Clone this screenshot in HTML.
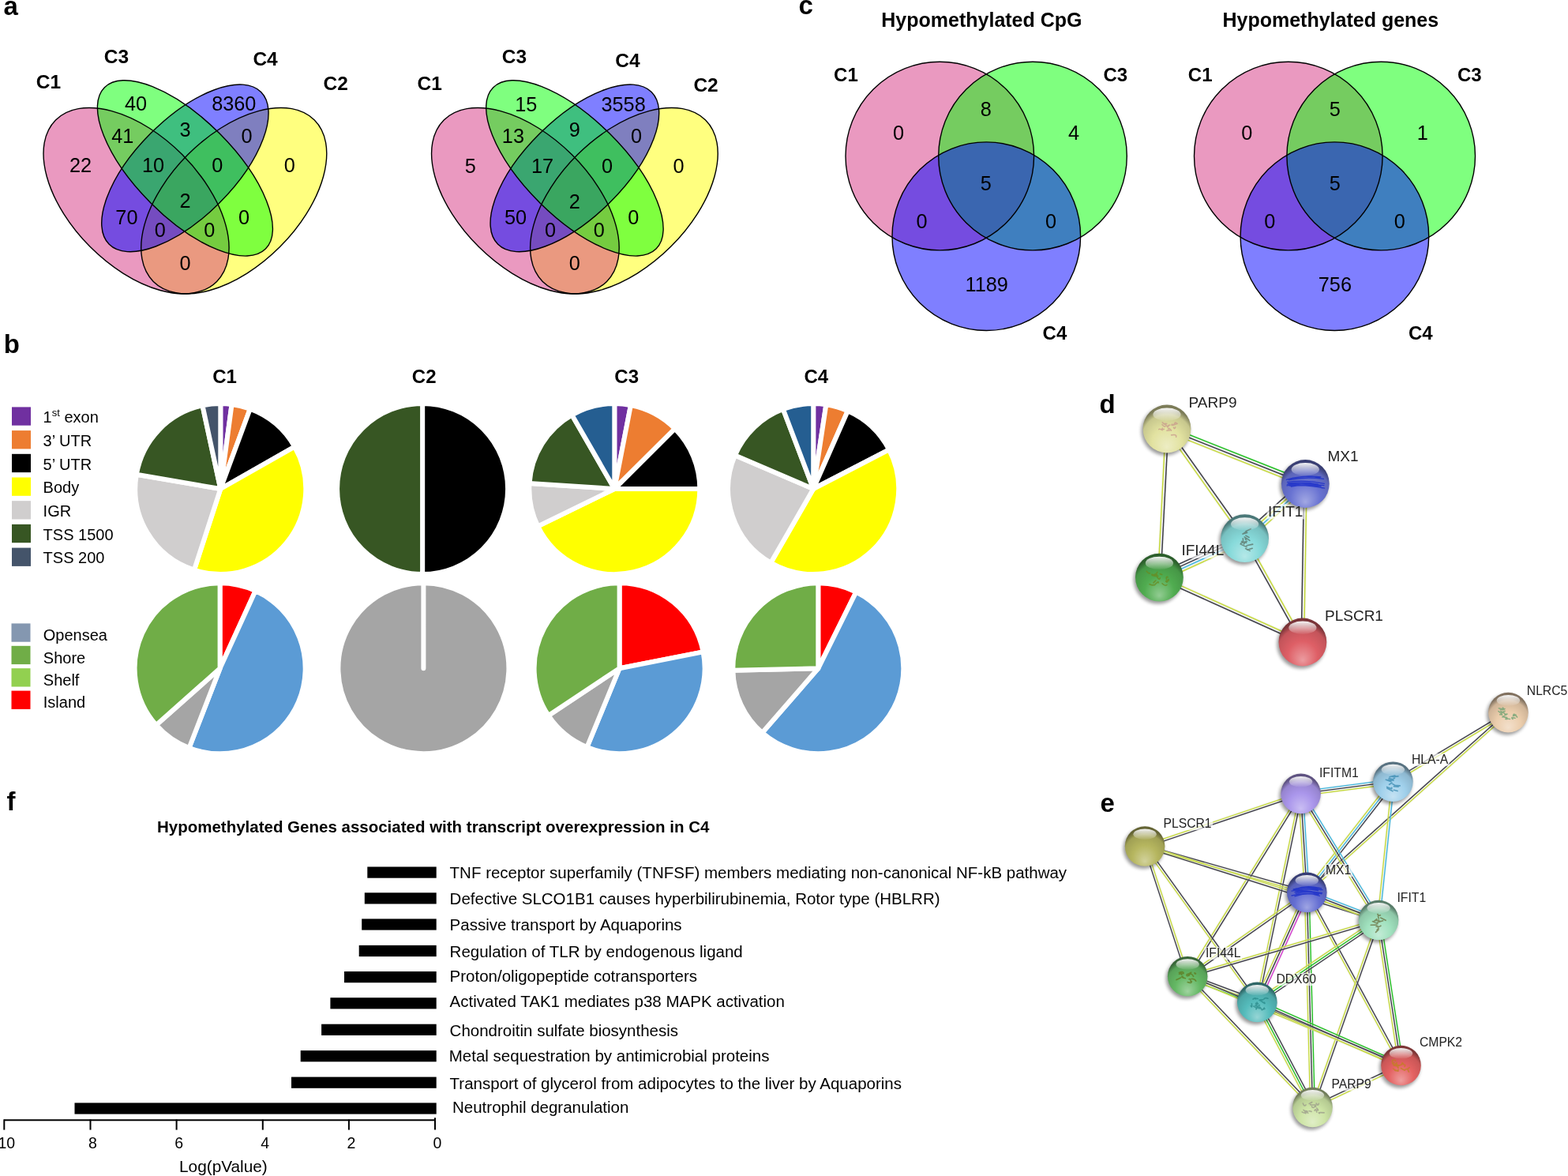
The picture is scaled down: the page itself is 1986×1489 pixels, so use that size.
<!DOCTYPE html>
<html><head><meta charset="utf-8"><title>Figure</title>
<style>html,body{margin:0;padding:0;background:#fff;} svg{display:block;} text{font-family:"Liberation Sans", Arial, Helvetica, sans-serif;}</style>
</head><body>
<svg width="1986" height="1489" viewBox="0 0 1986 1489">
<defs><filter id="blur" x="-50%" y="-50%" width="200%" height="200%"><feGaussianBlur stdDeviation="2.2"/></filter><linearGradient id="hl" x1="0" y1="0" x2="0" y2="1"><stop offset="0" stop-color="#fff" stop-opacity="0.95"/><stop offset="1" stop-color="#fff" stop-opacity="0.05"/></linearGradient><radialGradient id="sg1" cx="50%" cy="70%" r="62%" fx="50%" fy="88%"><stop offset="0" stop-color="#ededc4"/><stop offset="0.5" stop-color="#e2e2a0"/><stop offset="0.85" stop-color="#c7c78d"/><stop offset="1" stop-color="#7c7c58"/></radialGradient><radialGradient id="sg2" cx="50%" cy="70%" r="62%" fx="50%" fy="88%"><stop offset="0" stop-color="#a2a8e3"/><stop offset="0.5" stop-color="#6973d2"/><stop offset="0.85" stop-color="#5c65b9"/><stop offset="1" stop-color="#3a3f74"/></radialGradient><radialGradient id="sg3" cx="50%" cy="70%" r="62%" fx="50%" fy="88%"><stop offset="0" stop-color="#b5e8e8"/><stop offset="0.5" stop-color="#87dada"/><stop offset="0.85" stop-color="#77c0c0"/><stop offset="1" stop-color="#4a7878"/></radialGradient><radialGradient id="sg4" cx="50%" cy="70%" r="62%" fx="50%" fy="88%"><stop offset="0" stop-color="#92cc92"/><stop offset="0.5" stop-color="#50ac50"/><stop offset="0.85" stop-color="#469746"/><stop offset="1" stop-color="#2c5f2c"/></radialGradient><radialGradient id="sg5" cx="50%" cy="70%" r="62%" fx="50%" fy="88%"><stop offset="0" stop-color="#eb9ca0"/><stop offset="0.5" stop-color="#de5f66"/><stop offset="0.85" stop-color="#c3545a"/><stop offset="1" stop-color="#7a3438"/></radialGradient><radialGradient id="sg6" cx="50%" cy="70%" r="62%" fx="50%" fy="88%"><stop offset="0" stop-color="#f3e0cc"/><stop offset="0.5" stop-color="#ebcdac"/><stop offset="0.85" stop-color="#cfb497"/><stop offset="1" stop-color="#81715f"/></radialGradient><radialGradient id="sg7" cx="50%" cy="70%" r="62%" fx="50%" fy="88%"><stop offset="0" stop-color="#c4e2f3"/><stop offset="0.5" stop-color="#a0d0eb"/><stop offset="0.85" stop-color="#8db7cf"/><stop offset="1" stop-color="#587281"/></radialGradient><radialGradient id="sg8" cx="50%" cy="70%" r="62%" fx="50%" fy="88%"><stop offset="0" stop-color="#cabef3"/><stop offset="0.5" stop-color="#aa96eb"/><stop offset="0.85" stop-color="#9684cf"/><stop offset="1" stop-color="#5e5281"/></radialGradient><radialGradient id="sg9" cx="50%" cy="70%" r="62%" fx="50%" fy="88%"><stop offset="0" stop-color="#d2d29c"/><stop offset="0.5" stop-color="#b6b65f"/><stop offset="0.85" stop-color="#a0a054"/><stop offset="1" stop-color="#646434"/></radialGradient><radialGradient id="sg10" cx="50%" cy="70%" r="62%" fx="50%" fy="88%"><stop offset="0" stop-color="#9fa5e3"/><stop offset="0.5" stop-color="#646ed2"/><stop offset="0.85" stop-color="#5861b9"/><stop offset="1" stop-color="#373d74"/></radialGradient><radialGradient id="sg11" cx="50%" cy="70%" r="62%" fx="50%" fy="88%"><stop offset="0" stop-color="#c4ecd7"/><stop offset="0.5" stop-color="#a0e1be"/><stop offset="0.85" stop-color="#8dc6a7"/><stop offset="1" stop-color="#587c69"/></radialGradient><radialGradient id="sg12" cx="50%" cy="70%" r="62%" fx="50%" fy="88%"><stop offset="0" stop-color="#9fd39f"/><stop offset="0.5" stop-color="#64b864"/><stop offset="0.85" stop-color="#58a258"/><stop offset="1" stop-color="#376537"/></radialGradient><radialGradient id="sg13" cx="50%" cy="70%" r="62%" fx="50%" fy="88%"><stop offset="0" stop-color="#96d5d5"/><stop offset="0.5" stop-color="#55bcbc"/><stop offset="0.85" stop-color="#4ba5a5"/><stop offset="1" stop-color="#2f6767"/></radialGradient><radialGradient id="sg14" cx="50%" cy="70%" r="62%" fx="50%" fy="88%"><stop offset="0" stop-color="#ee9e9e"/><stop offset="0.5" stop-color="#e46262"/><stop offset="0.85" stop-color="#c95656"/><stop offset="1" stop-color="#7d3636"/></radialGradient><radialGradient id="sg15" cx="50%" cy="70%" r="62%" fx="50%" fy="88%"><stop offset="0" stop-color="#e0eec7"/><stop offset="0.5" stop-color="#cde4a5"/><stop offset="0.85" stop-color="#b4c991"/><stop offset="1" stop-color="#717d5b"/></radialGradient></defs>
<rect width="1986" height="1489" fill="#fff"/>
<text x="4.6" y="18.6" font-size="33" font-weight="bold" text-anchor="start" fill="#000" >a</text>
<g transform="translate(28.25,448.30) scale(412.3,-413)">
<ellipse cx="0.65" cy="0.47" rx="0.35" ry="0.2" transform="rotate(45 0.65 0.47)" fill="rgb(255,255,0)" fill-opacity="0.5"/>
<ellipse cx="0.35" cy="0.47" rx="0.35" ry="0.2" transform="rotate(-45 0.35 0.47)" fill="rgb(213,51,129)" fill-opacity="0.5"/>
<ellipse cx="0.5" cy="0.57" rx="0.33" ry="0.15" transform="rotate(45 0.5 0.57)" fill="rgb(0,0,255)" fill-opacity="0.5"/>
<ellipse cx="0.5" cy="0.57" rx="0.35" ry="0.15" transform="rotate(-45 0.5 0.57)" fill="rgb(0,255,0)" fill-opacity="0.5"/>
<ellipse cx="0.65" cy="0.47" rx="0.35" ry="0.2" transform="rotate(45 0.65 0.47)" fill="none" stroke="#000" stroke-width="1.4" vector-effect="non-scaling-stroke"/>
<ellipse cx="0.35" cy="0.47" rx="0.35" ry="0.2" transform="rotate(-45 0.35 0.47)" fill="none" stroke="#000" stroke-width="1.4" vector-effect="non-scaling-stroke"/>
<ellipse cx="0.5" cy="0.57" rx="0.33" ry="0.15" transform="rotate(45 0.5 0.57)" fill="none" stroke="#000" stroke-width="1.4" vector-effect="non-scaling-stroke"/>
<ellipse cx="0.5" cy="0.57" rx="0.35" ry="0.15" transform="rotate(-45 0.5 0.57)" fill="none" stroke="#000" stroke-width="1.4" vector-effect="non-scaling-stroke"/>
</g>
<text x="102.1" y="209.2" font-size="25.3" text-anchor="middle" fill="#000" dominant-baseline="central">22</text>
<text x="172.0" y="131.2" font-size="25.3" text-anchor="middle" fill="#000" dominant-baseline="central">40</text>
<text x="155.3" y="172.4" font-size="25.3" text-anchor="middle" fill="#000" dominant-baseline="central">41</text>
<text x="296.3" y="131.2" font-size="25.3" text-anchor="middle" fill="#000" dominant-baseline="central">8360</text>
<text x="234.5" y="164.0" font-size="25.3" text-anchor="middle" fill="#000" dominant-baseline="central">3</text>
<text x="312.5" y="172.4" font-size="25.3" text-anchor="middle" fill="#000" dominant-baseline="central">0</text>
<text x="194.0" y="209.2" font-size="25.3" text-anchor="middle" fill="#000" dominant-baseline="central">10</text>
<text x="275.4" y="209.2" font-size="25.3" text-anchor="middle" fill="#000" dominant-baseline="central">0</text>
<text x="366.7" y="209.2" font-size="25.3" text-anchor="middle" fill="#000" dominant-baseline="central">0</text>
<text x="160.4" y="275.0" font-size="25.3" text-anchor="middle" fill="#000" dominant-baseline="central">70</text>
<text x="234.5" y="254.3" font-size="25.3" text-anchor="middle" fill="#000" dominant-baseline="central">2</text>
<text x="309.0" y="275.0" font-size="25.3" text-anchor="middle" fill="#000" dominant-baseline="central">0</text>
<text x="202.8" y="291.1" font-size="25.3" text-anchor="middle" fill="#000" dominant-baseline="central">0</text>
<text x="265.4" y="291.1" font-size="25.3" text-anchor="middle" fill="#000" dominant-baseline="central">0</text>
<text x="234.5" y="332.8" font-size="25.3" text-anchor="middle" fill="#000" dominant-baseline="central">0</text>
<text x="61.4" y="112.3" font-size="24.5" font-weight="bold" text-anchor="middle" fill="#000" >C1</text>
<text x="147.5" y="79.6" font-size="24.5" font-weight="bold" text-anchor="middle" fill="#000" >C3</text>
<text x="336.1" y="83.3" font-size="24.5" font-weight="bold" text-anchor="middle" fill="#000" >C4</text>
<text x="425.2" y="114.2" font-size="24.5" font-weight="bold" text-anchor="middle" fill="#000" >C2</text>
<g transform="translate(519.50,448.30) scale(416.8,-413)">
<ellipse cx="0.65" cy="0.47" rx="0.35" ry="0.2" transform="rotate(45 0.65 0.47)" fill="rgb(255,255,0)" fill-opacity="0.5"/>
<ellipse cx="0.35" cy="0.47" rx="0.35" ry="0.2" transform="rotate(-45 0.35 0.47)" fill="rgb(213,51,129)" fill-opacity="0.5"/>
<ellipse cx="0.5" cy="0.57" rx="0.33" ry="0.15" transform="rotate(45 0.5 0.57)" fill="rgb(0,0,255)" fill-opacity="0.5"/>
<ellipse cx="0.5" cy="0.57" rx="0.35" ry="0.15" transform="rotate(-45 0.5 0.57)" fill="rgb(0,255,0)" fill-opacity="0.5"/>
<ellipse cx="0.65" cy="0.47" rx="0.35" ry="0.2" transform="rotate(45 0.65 0.47)" fill="none" stroke="#000" stroke-width="1.4" vector-effect="non-scaling-stroke"/>
<ellipse cx="0.35" cy="0.47" rx="0.35" ry="0.2" transform="rotate(-45 0.35 0.47)" fill="none" stroke="#000" stroke-width="1.4" vector-effect="non-scaling-stroke"/>
<ellipse cx="0.5" cy="0.57" rx="0.33" ry="0.15" transform="rotate(45 0.5 0.57)" fill="none" stroke="#000" stroke-width="1.4" vector-effect="non-scaling-stroke"/>
<ellipse cx="0.5" cy="0.57" rx="0.35" ry="0.15" transform="rotate(-45 0.5 0.57)" fill="none" stroke="#000" stroke-width="1.4" vector-effect="non-scaling-stroke"/>
</g>
<text x="595.7" y="209.5" font-size="25.3" text-anchor="middle" fill="#000" dominant-baseline="central">5</text>
<text x="666.2" y="131.5" font-size="25.3" text-anchor="middle" fill="#000" dominant-baseline="central">15</text>
<text x="649.9" y="172.3" font-size="25.3" text-anchor="middle" fill="#000" dominant-baseline="central">13</text>
<text x="789.6" y="131.5" font-size="25.3" text-anchor="middle" fill="#000" dominant-baseline="central">3558</text>
<text x="727.9" y="164.2" font-size="25.3" text-anchor="middle" fill="#000" dominant-baseline="central">9</text>
<text x="806.0" y="172.3" font-size="25.3" text-anchor="middle" fill="#000" dominant-baseline="central">0</text>
<text x="687.1" y="209.5" font-size="25.3" text-anchor="middle" fill="#000" dominant-baseline="central">17</text>
<text x="769.0" y="209.5" font-size="25.3" text-anchor="middle" fill="#000" dominant-baseline="central">0</text>
<text x="859.6" y="209.5" font-size="25.3" text-anchor="middle" fill="#000" dominant-baseline="central">0</text>
<text x="653.1" y="275.0" font-size="25.3" text-anchor="middle" fill="#000" dominant-baseline="central">50</text>
<text x="727.9" y="254.9" font-size="25.3" text-anchor="middle" fill="#000" dominant-baseline="central">2</text>
<text x="802.2" y="275.0" font-size="25.3" text-anchor="middle" fill="#000" dominant-baseline="central">0</text>
<text x="697.0" y="291.4" font-size="25.3" text-anchor="middle" fill="#000" dominant-baseline="central">0</text>
<text x="758.9" y="291.4" font-size="25.3" text-anchor="middle" fill="#000" dominant-baseline="central">0</text>
<text x="727.9" y="332.9" font-size="25.3" text-anchor="middle" fill="#000" dominant-baseline="central">0</text>
<text x="544.2" y="114.3" font-size="24.5" font-weight="bold" text-anchor="middle" fill="#000" >C1</text>
<text x="651.5" y="79.8" font-size="24.5" font-weight="bold" text-anchor="middle" fill="#000" >C3</text>
<text x="794.9" y="85.3" font-size="24.5" font-weight="bold" text-anchor="middle" fill="#000" >C4</text>
<text x="894.1" y="115.5" font-size="24.5" font-weight="bold" text-anchor="middle" fill="#000" >C2</text>
<text x="1011.6" y="18.3" font-size="33" font-weight="bold" text-anchor="start" fill="#000" >c</text>
<text x="1243.4" y="34.0" font-size="25" font-weight="bold" text-anchor="middle" fill="#000" >Hypomethylated CpG</text>
<text x="1685.3" y="34.0" font-size="25" font-weight="bold" text-anchor="middle" fill="#000" >Hypomethylated genes</text>
<circle cx="1190.3" cy="197.6" r="119.3" fill="rgb(213,51,129)" fill-opacity="0.5"/>
<circle cx="1308" cy="197.6" r="119.3" fill="rgb(0,255,0)" fill-opacity="0.5"/>
<circle cx="1249.3" cy="299.2" r="119.3" fill="rgb(0,0,255)" fill-opacity="0.5"/>
<circle cx="1190.3" cy="197.6" r="119.3" fill="none" stroke="#000" stroke-width="1.4"/>
<circle cx="1308" cy="197.6" r="119.3" fill="none" stroke="#000" stroke-width="1.4"/>
<circle cx="1249.3" cy="299.2" r="119.3" fill="none" stroke="#000" stroke-width="1.4"/>
<text x="1138.0" y="168.0" font-size="25.3" text-anchor="middle" fill="#000" dominant-baseline="central">0</text>
<text x="1248.8" y="137.6" font-size="25.3" text-anchor="middle" fill="#000" dominant-baseline="central">8</text>
<text x="1360.0" y="168.0" font-size="25.3" text-anchor="middle" fill="#000" dominant-baseline="central">4</text>
<text x="1248.8" y="231.6" font-size="25.3" text-anchor="middle" fill="#000" dominant-baseline="central">5</text>
<text x="1167.6" y="279.7" font-size="25.3" text-anchor="middle" fill="#000" dominant-baseline="central">0</text>
<text x="1331.0" y="279.7" font-size="25.3" text-anchor="middle" fill="#000" dominant-baseline="central">0</text>
<text x="1249.7" y="360.1" font-size="25.3" text-anchor="middle" fill="#000" dominant-baseline="central">1189</text>
<text x="1056.1" y="103.4" font-size="24" font-weight="bold" text-anchor="start" fill="#000" >C1</text>
<text x="1397.5" y="103.4" font-size="24" font-weight="bold" text-anchor="start" fill="#000" >C3</text>
<text x="1320.6" y="430.0" font-size="24" font-weight="bold" text-anchor="start" fill="#000" >C4</text>
<circle cx="1631.8" cy="197.6" r="119.3" fill="rgb(213,51,129)" fill-opacity="0.5"/>
<circle cx="1749.2" cy="197.6" r="119.3" fill="rgb(0,255,0)" fill-opacity="0.5"/>
<circle cx="1690.4" cy="299.2" r="119.3" fill="rgb(0,0,255)" fill-opacity="0.5"/>
<circle cx="1631.8" cy="197.6" r="119.3" fill="none" stroke="#000" stroke-width="1.4"/>
<circle cx="1749.2" cy="197.6" r="119.3" fill="none" stroke="#000" stroke-width="1.4"/>
<circle cx="1690.4" cy="299.2" r="119.3" fill="none" stroke="#000" stroke-width="1.4"/>
<text x="1579.2" y="168.0" font-size="25.3" text-anchor="middle" fill="#000" dominant-baseline="central">0</text>
<text x="1690.9" y="137.6" font-size="25.3" text-anchor="middle" fill="#000" dominant-baseline="central">5</text>
<text x="1801.7" y="168.0" font-size="25.3" text-anchor="middle" fill="#000" dominant-baseline="central">1</text>
<text x="1690.9" y="231.6" font-size="25.3" text-anchor="middle" fill="#000" dominant-baseline="central">5</text>
<text x="1608.2" y="279.6" font-size="25.3" text-anchor="middle" fill="#000" dominant-baseline="central">0</text>
<text x="1772.7" y="279.6" font-size="25.3" text-anchor="middle" fill="#000" dominant-baseline="central">0</text>
<text x="1690.9" y="360.0" font-size="25.3" text-anchor="middle" fill="#000" dominant-baseline="central">756</text>
<text x="1504.8" y="103.4" font-size="24" font-weight="bold" text-anchor="start" fill="#000" >C1</text>
<text x="1846.0" y="103.4" font-size="24" font-weight="bold" text-anchor="start" fill="#000" >C3</text>
<text x="1784.0" y="430.0" font-size="24" font-weight="bold" text-anchor="start" fill="#000" >C4</text>
<text x="4.8" y="447.0" font-size="33" font-weight="bold" text-anchor="start" fill="#000" >b</text>
<text x="284.5" y="485.2" font-size="24" font-weight="bold" text-anchor="middle" fill="#000" >C1</text>
<text x="537.2" y="485.2" font-size="24" font-weight="bold" text-anchor="middle" fill="#000" >C2</text>
<text x="793.7" y="485.2" font-size="24" font-weight="bold" text-anchor="middle" fill="#000" >C3</text>
<text x="1033.8" y="485.2" font-size="24" font-weight="bold" text-anchor="middle" fill="#000" >C4</text>
<rect x="15" y="515.4" width="24" height="23.3" fill="#7030A0"/>
<text x="54.6" y="535.2" font-size="20" text-anchor="start" fill="#000" >1<tspan font-size="13" dy="-8">st</tspan><tspan dy="8"> exon</tspan></text>
<rect x="15" y="545.1" width="24" height="23.3" fill="#ED7D31"/>
<text x="54.6" y="564.9" font-size="20" text-anchor="start" fill="#000" >3’ UTR</text>
<rect x="15" y="574.8" width="24" height="23.3" fill="#000000"/>
<text x="54.6" y="594.6" font-size="20" text-anchor="start" fill="#000" >5’ UTR</text>
<rect x="15" y="604.5" width="24" height="23.3" fill="#FFFF00"/>
<text x="54.6" y="624.3" font-size="20" text-anchor="start" fill="#000" >Body</text>
<rect x="15" y="634.2" width="24" height="23.3" fill="#D0CECE"/>
<text x="54.6" y="654.0" font-size="20" text-anchor="start" fill="#000" >IGR</text>
<rect x="15" y="663.9" width="24" height="23.3" fill="#375623"/>
<text x="54.6" y="683.7" font-size="20" text-anchor="start" fill="#000" >TSS 1500</text>
<rect x="15" y="693.6" width="24" height="23.3" fill="#44546A"/>
<text x="54.6" y="713.4" font-size="20" text-anchor="start" fill="#000" >TSS 200</text>
<rect x="14.5" y="789.4" width="24" height="23.3" fill="#8497B0"/>
<text x="54.8" y="811.2" font-size="20" text-anchor="start" fill="#000" >Opensea</text>
<rect x="14.5" y="817.8" width="24" height="23.3" fill="#70AD47"/>
<text x="54.8" y="839.6" font-size="20" text-anchor="start" fill="#000" >Shore</text>
<rect x="14.5" y="846.2" width="24" height="23.3" fill="#92D050"/>
<text x="54.8" y="868.0" font-size="20" text-anchor="start" fill="#000" >Shelf</text>
<rect x="14.5" y="874.6" width="24" height="23.3" fill="#FF0000"/>
<text x="54.8" y="896.4" font-size="20" text-anchor="start" fill="#000" >Island</text>
<path d="M279.30,619.00 L279.30,511.00 A108,108 0 0,1 293.58,511.95 Z" fill="#7030A0" stroke="#fff" stroke-width="6" stroke-linejoin="round"/>
<path d="M279.30,619.00 L293.58,511.95 A108,108 0 0,1 316.77,517.71 Z" fill="#ED7D31" stroke="#fff" stroke-width="6" stroke-linejoin="round"/>
<path d="M279.30,619.00 L316.77,517.71 A108,108 0 0,1 373.21,565.65 Z" fill="#000000" stroke="#fff" stroke-width="6" stroke-linejoin="round"/>
<path d="M279.30,619.00 L373.21,565.65 A108,108 0 0,1 245.93,721.71 Z" fill="#FFFF00" stroke="#fff" stroke-width="6" stroke-linejoin="round"/>
<path d="M279.30,619.00 L245.93,721.71 A108,108 0 0,1 172.84,600.80 Z" fill="#D0CECE" stroke="#fff" stroke-width="6" stroke-linejoin="round"/>
<path d="M279.30,619.00 L172.84,600.80 A108,108 0 0,1 256.48,513.44 Z" fill="#375623" stroke="#fff" stroke-width="6" stroke-linejoin="round"/>
<path d="M279.30,619.00 L256.48,513.44 A108,108 0 0,1 279.30,511.00 Z" fill="#44546A" stroke="#fff" stroke-width="6" stroke-linejoin="round"/>
<path d="M535.10,619.00 L535.10,511.00 A108,108 0 0,1 535.10,727.00 Z" fill="#000000" stroke="#fff" stroke-width="6" stroke-linejoin="round"/>
<path d="M535.10,619.00 L535.10,727.00 A108,108 0 0,1 535.10,511.00 Z" fill="#375623" stroke="#fff" stroke-width="6" stroke-linejoin="round"/>
<path d="M778.30,619.00 L778.30,511.00 A108,108 0 0,1 798.91,512.98 Z" fill="#7030A0" stroke="#fff" stroke-width="6" stroke-linejoin="round"/>
<path d="M778.30,619.00 L798.91,512.98 A108,108 0 0,1 854.80,542.77 Z" fill="#ED7D31" stroke="#fff" stroke-width="6" stroke-linejoin="round"/>
<path d="M778.30,619.00 L854.80,542.77 A108,108 0 0,1 886.30,619.00 Z" fill="#000000" stroke="#fff" stroke-width="6" stroke-linejoin="round"/>
<path d="M778.30,619.00 L886.30,619.00 A108,108 0 0,1 681.23,666.34 Z" fill="#FFFF00" stroke="#fff" stroke-width="6" stroke-linejoin="round"/>
<path d="M778.30,619.00 L681.23,666.34 A108,108 0 0,1 670.53,612.03 Z" fill="#D0CECE" stroke="#fff" stroke-width="6" stroke-linejoin="round"/>
<path d="M778.30,619.00 L670.53,612.03 A108,108 0 0,1 724.46,525.38 Z" fill="#375623" stroke="#fff" stroke-width="6" stroke-linejoin="round"/>
<path d="M778.30,619.00 L724.46,525.38 A108,108 0 0,1 778.30,511.00 Z" fill="#255E91" stroke="#fff" stroke-width="6" stroke-linejoin="round"/>
<path d="M1030.20,619.00 L1030.20,511.00 A108,108 0 0,1 1046.35,512.21 Z" fill="#7030A0" stroke="#fff" stroke-width="6" stroke-linejoin="round"/>
<path d="M1030.20,619.00 L1046.35,512.21 A108,108 0 0,1 1073.78,520.18 Z" fill="#ED7D31" stroke="#fff" stroke-width="6" stroke-linejoin="round"/>
<path d="M1030.20,619.00 L1073.78,520.18 A108,108 0 0,1 1126.08,569.30 Z" fill="#000000" stroke="#fff" stroke-width="6" stroke-linejoin="round"/>
<path d="M1030.20,619.00 L1126.08,569.30 A108,108 0 0,1 976.36,712.62 Z" fill="#FFFF00" stroke="#fff" stroke-width="6" stroke-linejoin="round"/>
<path d="M1030.20,619.00 L976.36,712.62 A108,108 0 0,1 930.93,576.45 Z" fill="#D0CECE" stroke="#fff" stroke-width="6" stroke-linejoin="round"/>
<path d="M1030.20,619.00 L930.93,576.45 A108,108 0 0,1 991.85,518.04 Z" fill="#375623" stroke="#fff" stroke-width="6" stroke-linejoin="round"/>
<path d="M1030.20,619.00 L991.85,518.04 A108,108 0 0,1 1030.20,511.00 Z" fill="#255E91" stroke="#fff" stroke-width="6" stroke-linejoin="round"/>
<path d="M278.60,846.30 L278.60,738.30 A108,108 0 0,1 323.56,748.10 Z" fill="#FF0000" stroke="#fff" stroke-width="6" stroke-linejoin="round"/>
<path d="M278.60,846.30 L323.56,748.10 A108,108 0 0,1 239.54,946.99 Z" fill="#5B9BD5" stroke="#fff" stroke-width="6" stroke-linejoin="round"/>
<path d="M278.60,846.30 L239.54,946.99 A108,108 0 0,1 197.84,918.00 Z" fill="#A5A5A5" stroke="#fff" stroke-width="6" stroke-linejoin="round"/>
<path d="M278.60,846.30 L197.84,918.00 A108,108 0 0,1 278.60,738.30 Z" fill="#70AD47" stroke="#fff" stroke-width="6" stroke-linejoin="round"/>
<path d="M536.40,846.20 L536.40,738.20 A108,108 0 1,1 536.39,738.20 Z" fill="#A5A5A5" stroke="#fff" stroke-width="6" stroke-linejoin="round"/>
<path d="M784.60,846.20 L784.60,738.20 A108,108 0 0,1 890.58,825.41 Z" fill="#FF0000" stroke="#fff" stroke-width="6" stroke-linejoin="round"/>
<path d="M784.60,846.20 L890.58,825.41 A108,108 0 0,1 743.44,946.05 Z" fill="#5B9BD5" stroke="#fff" stroke-width="6" stroke-linejoin="round"/>
<path d="M784.60,846.20 L743.44,946.05 A108,108 0 0,1 694.64,905.97 Z" fill="#A5A5A5" stroke="#fff" stroke-width="6" stroke-linejoin="round"/>
<path d="M784.60,846.20 L694.64,905.97 A108,108 0 0,1 784.60,738.20 Z" fill="#70AD47" stroke="#fff" stroke-width="6" stroke-linejoin="round"/>
<path d="M1036.30,846.30 L1036.30,738.30 A108,108 0 0,1 1084.32,749.56 Z" fill="#FF0000" stroke="#fff" stroke-width="6" stroke-linejoin="round"/>
<path d="M1036.30,846.30 L1084.32,749.56 A108,108 0 1,1 965.45,927.81 Z" fill="#5B9BD5" stroke="#fff" stroke-width="6" stroke-linejoin="round"/>
<path d="M1036.30,846.30 L965.45,927.81 A108,108 0 0,1 928.33,848.75 Z" fill="#A5A5A5" stroke="#fff" stroke-width="6" stroke-linejoin="round"/>
<path d="M1036.30,846.30 L928.33,848.75 A108,108 0 0,1 1036.30,738.30 Z" fill="#70AD47" stroke="#fff" stroke-width="6" stroke-linejoin="round"/>
<text x="1392.6" y="523.0" font-size="33" font-weight="bold" text-anchor="start" fill="#000" >d</text>
<line x1="1478.0" y1="543.0" x2="1653.3" y2="612.5" stroke="#d8d8d8" stroke-width="9.8" stroke-opacity="0.35"/>
<line x1="1479.3" y1="539.8" x2="1654.6" y2="609.3" stroke="#1fc21f" stroke-width="1.5"/>
<line x1="1478.0" y1="543.0" x2="1653.3" y2="612.5" stroke="#3c3c46" stroke-width="1.5"/>
<line x1="1476.7" y1="546.2" x2="1652.0" y2="615.7" stroke="#c8dc3c" stroke-width="1.5"/>
<line x1="1478.0" y1="543.0" x2="1576.6" y2="681.7" stroke="#d8d8d8" stroke-width="6.4" stroke-opacity="0.35"/>
<line x1="1479.4" y1="542.0" x2="1578.0" y2="680.7" stroke="#3c3c46" stroke-width="1.5"/>
<line x1="1476.6" y1="544.0" x2="1575.2" y2="682.7" stroke="#c8dc3c" stroke-width="1.5"/>
<line x1="1478.0" y1="543.0" x2="1468.4" y2="731.1" stroke="#d8d8d8" stroke-width="6.4" stroke-opacity="0.35"/>
<line x1="1479.7" y1="543.1" x2="1470.1" y2="731.2" stroke="#3c3c46" stroke-width="1.5"/>
<line x1="1476.3" y1="542.9" x2="1466.7" y2="731.0" stroke="#c8dc3c" stroke-width="1.5"/>
<line x1="1653.3" y1="612.5" x2="1576.6" y2="681.7" stroke="#d8d8d8" stroke-width="13.2" stroke-opacity="0.35"/>
<line x1="1656.7" y1="616.3" x2="1580.0" y2="685.5" stroke="#c8dc3c" stroke-width="1.5"/>
<line x1="1654.4" y1="613.8" x2="1577.7" y2="683.0" stroke="#3fb8e0" stroke-width="1.5"/>
<line x1="1652.2" y1="611.2" x2="1575.5" y2="680.4" stroke="#c8dc3c" stroke-width="1.5"/>
<line x1="1649.9" y1="608.7" x2="1573.2" y2="677.9" stroke="#3c3c46" stroke-width="1.5"/>
<line x1="1653.3" y1="612.5" x2="1649.9" y2="813.0" stroke="#d8d8d8" stroke-width="6.4" stroke-opacity="0.35"/>
<line x1="1655.0" y1="612.5" x2="1651.6" y2="813.0" stroke="#c8dc3c" stroke-width="1.5"/>
<line x1="1651.6" y1="612.5" x2="1648.2" y2="813.0" stroke="#3c3c46" stroke-width="1.5"/>
<line x1="1576.6" y1="681.7" x2="1468.4" y2="731.1" stroke="#d8d8d8" stroke-width="13.2" stroke-opacity="0.35"/>
<line x1="1578.7" y1="686.3" x2="1470.5" y2="735.7" stroke="#c8dc3c" stroke-width="1.5"/>
<line x1="1577.3" y1="683.2" x2="1469.1" y2="732.6" stroke="#3fb8e0" stroke-width="1.5"/>
<line x1="1575.9" y1="680.2" x2="1467.7" y2="729.6" stroke="#3c3c46" stroke-width="1.5"/>
<line x1="1574.5" y1="677.1" x2="1466.3" y2="726.5" stroke="#3c3c46" stroke-width="1.5"/>
<line x1="1576.6" y1="681.7" x2="1649.9" y2="813.0" stroke="#d8d8d8" stroke-width="6.4" stroke-opacity="0.35"/>
<line x1="1578.1" y1="680.9" x2="1651.4" y2="812.2" stroke="#c8dc3c" stroke-width="1.5"/>
<line x1="1575.1" y1="682.5" x2="1648.4" y2="813.8" stroke="#3c3c46" stroke-width="1.5"/>
<line x1="1468.4" y1="731.1" x2="1649.9" y2="813.0" stroke="#d8d8d8" stroke-width="6.4" stroke-opacity="0.35"/>
<line x1="1469.1" y1="729.6" x2="1650.6" y2="811.5" stroke="#c8dc3c" stroke-width="1.5"/>
<line x1="1467.7" y1="732.6" x2="1649.2" y2="814.5" stroke="#3c3c46" stroke-width="1.5"/>
<rect x="1504.1" y="500.4" width="63.9" height="19.4" fill="#fff" opacity="0.65"/>
<rect x="1680.0" y="568.0" width="42.1" height="19.4" fill="#fff" opacity="0.65"/>
<rect x="1604.5" y="638.0" width="47.3" height="19.4" fill="#fff" opacity="0.65"/>
<rect x="1494.9" y="687.4" width="56.9" height="19.4" fill="#fff" opacity="0.65"/>
<rect x="1676.5" y="770.4" width="76.9" height="19.4" fill="#fff" opacity="0.65"/>
<circle cx="1476.2" cy="545.8" r="30.7" fill="#000" opacity="0.4" filter="url(#blur)"/>
<circle cx="1478.0" cy="543.0" r="30.4" fill="url(#sg1)"/>
<path d="M1479.7,543.2 q0.6,-2.4 3.8,1.9 M1481.7,538.3 q0.2,-1.4 -3.0,2.7 M1490.1,536.2 q2.9,0.8 -1.4,-1.3 M1482.3,543.7 q1.5,1.3 -4.4,1.6 M1489.7,553.1 q0.9,-3.6 -6.0,-2.2 M1488.7,540.9 q-1.1,3.2 -2.2,0.3 M1476.4,536.6 q0.7,2.8 -4.1,-1.7 M1475.9,536.1 q-0.0,2.5 1.9,0.2 M1486.6,538.1 q0.5,-1.0 1.2,-2.3 M1484.7,537.2 q-2.7,2.5 5.4,-0.4 M1475.9,539.9 q-1.8,0.9 -3.9,-2.3 M1476.9,538.4 q1.2,2.6 3.3,-0.1 M1474.3,543.3 q-4.0,1.7 -2.0,-1.1 M1467.8,543.6 q0.7,-0.9 4.4,1.0" fill="none" stroke="#c89a8c" stroke-width="1.6" stroke-linecap="round" opacity="0.75"/>
<ellipse cx="1478.0" cy="524.8" rx="17.6" ry="8.2" fill="url(#hl)"/>
<circle cx="1651.5" cy="615.3" r="30.7" fill="#000" opacity="0.4" filter="url(#blur)"/>
<circle cx="1653.3" cy="612.5" r="30.4" fill="url(#sg2)"/>
<path d="M1630.4,610.4 Q1653.3,607.3 1677.3,612.3 M1631.6,611.8 Q1653.3,609.7 1669.5,613.2 M1634.7,613.5 Q1653.3,610.3 1673.1,615.7 M1633.5,615.2 Q1653.3,612.9 1677.6,618.2 M1635.4,616.2 Q1653.3,612.0 1674.9,617.8 M1632.5,607.7 Q1653.3,603.1 1676.5,606.3 M1629.4,607.4 Q1653.3,601.4 1672.8,604.0 M1630.4,613.2 Q1653.3,611.2 1676.9,614.6 M1630.9,606.8 Q1653.3,601.0 1671.7,604.5 M1630.0,614.9 Q1653.3,610.7 1670.7,616.5" fill="none" stroke="#1428c8" stroke-width="1.3" stroke-linecap="round" opacity="0.75"/>
<ellipse cx="1653.3" cy="594.3" rx="17.6" ry="8.2" fill="url(#hl)"/>
<circle cx="1574.8" cy="684.5" r="30.7" fill="#000" opacity="0.4" filter="url(#blur)"/>
<circle cx="1576.6" cy="681.7" r="30.4" fill="url(#sg3)"/>
<path d="M1577.9,672.6 l6.2,-2.9 M1579.6,674.4 l-5.6,1.6 M1574.1,676.2 l4.7,-3.2 M1577.9,678.1 l4.1,2.4 M1576.2,679.9 l6.7,4.4 M1574.3,681.7 l0.3,4.2 M1578.1,683.5 l-1.0,-1.8 M1579.4,685.3 l-7.6,2.4 M1578.7,687.2 l-6.2,-1.6 M1575.4,689.0 l0.8,-1.2 M1579.0,690.8 l7.7,-1.7 M1579.0,692.6 l-7.9,-3.7 M1577.6,694.5 l5.5,2.9 M1579.6,696.3 l6.6,-2.1" fill="none" stroke="#5a7064" stroke-width="1.6" stroke-linecap="round" opacity="0.75"/>
<ellipse cx="1576.6" cy="663.5" rx="17.6" ry="8.2" fill="url(#hl)"/>
<circle cx="1466.6" cy="733.9" r="30.7" fill="#000" opacity="0.4" filter="url(#blur)"/>
<circle cx="1468.4" cy="731.1" r="30.4" fill="url(#sg4)"/>
<path d="M1456.5,725.6 q-0.9,1.5 -4.3,-2.3 M1461.9,737.3 q-2.8,1.9 1.9,-2.2 M1469.3,731.7 q-0.7,4.0 -4.9,-2.9 M1479.1,730.8 q-2.4,-1.4 -1.6,2.7 M1461.4,727.5 q0.7,0.4 5.4,2.0 M1464.9,727.2 q2.7,3.9 -5.6,1.4 M1477.4,735.4 q-2.3,2.4 2.8,-1.8 M1471.8,727.5 q-3.7,-1.3 -2.0,-0.6 M1472.0,738.8 q3.7,3.8 5.9,1.7 M1463.7,726.7 q1.0,0.4 2.1,-2.4 M1460.9,740.3 q0.8,1.6 -4.9,-0.6 M1478.4,735.3 q3.9,-2.4 -0.5,1.8 M1467.1,737.9 q0.5,-3.1 -4.8,2.9 M1459.1,727.0 q-1.3,1.7 4.2,-0.1" fill="none" stroke="#6a8a20" stroke-width="1.6" stroke-linecap="round" opacity="0.75"/>
<ellipse cx="1468.4" cy="712.9" rx="17.6" ry="8.2" fill="url(#hl)"/>
<circle cx="1648.1" cy="815.8" r="30.7" fill="#000" opacity="0.4" filter="url(#blur)"/>
<circle cx="1649.9" cy="813.0" r="30.4" fill="url(#sg5)"/>
<ellipse cx="1649.9" cy="794.8" rx="17.6" ry="8.2" fill="url(#hl)"/>
<text x="1505.6" y="516.0" font-size="19" text-anchor="start" fill="#222" >PARP9</text>
<text x="1681.5" y="583.6" font-size="19" text-anchor="start" fill="#222" >MX1</text>
<text x="1606.0" y="653.6" font-size="19" text-anchor="start" fill="#222" >IFIT1</text>
<text x="1496.4" y="703.0" font-size="19" text-anchor="start" fill="#222" >IFI44L</text>
<text x="1678.0" y="786.0" font-size="19" text-anchor="start" fill="#222" >PLSCR1</text>
<text x="1393.4" y="1027.5" font-size="33" font-weight="bold" text-anchor="start" fill="#000" >e</text>
<line x1="1910.4" y1="902.1" x2="1764.4" y2="989.7" stroke="#d8d8d8" stroke-width="5.7" stroke-opacity="0.35"/>
<line x1="1911.1" y1="903.3" x2="1765.1" y2="990.9" stroke="#c8dc3c" stroke-width="1.35"/>
<line x1="1909.7" y1="900.9" x2="1763.7" y2="988.5" stroke="#3c3c46" stroke-width="1.35"/>
<line x1="1910.4" y1="902.1" x2="1655.3" y2="1129.9" stroke="#d8d8d8" stroke-width="5.7" stroke-opacity="0.35"/>
<line x1="1911.3" y1="903.1" x2="1656.2" y2="1130.9" stroke="#c8dc3c" stroke-width="1.35"/>
<line x1="1909.5" y1="901.1" x2="1654.4" y2="1128.9" stroke="#3c3c46" stroke-width="1.35"/>
<line x1="1764.4" y1="989.7" x2="1647.6" y2="1004.9" stroke="#d8d8d8" stroke-width="8.4" stroke-opacity="0.35"/>
<line x1="1764.8" y1="992.5" x2="1648.0" y2="1007.7" stroke="#c8dc3c" stroke-width="1.35"/>
<line x1="1764.4" y1="989.7" x2="1647.6" y2="1004.9" stroke="#3c3c46" stroke-width="1.35"/>
<line x1="1764.0" y1="986.9" x2="1647.2" y2="1002.1" stroke="#3fb8e0" stroke-width="1.35"/>
<line x1="1764.4" y1="989.7" x2="1655.3" y2="1129.9" stroke="#d8d8d8" stroke-width="8.4" stroke-opacity="0.35"/>
<line x1="1766.6" y1="991.4" x2="1657.5" y2="1131.6" stroke="#3c3c46" stroke-width="1.35"/>
<line x1="1764.4" y1="989.7" x2="1655.3" y2="1129.9" stroke="#3fb8e0" stroke-width="1.35"/>
<line x1="1762.2" y1="988.0" x2="1653.1" y2="1128.2" stroke="#c8dc3c" stroke-width="1.35"/>
<line x1="1764.4" y1="989.7" x2="1746.1" y2="1165.0" stroke="#d8d8d8" stroke-width="5.7" stroke-opacity="0.35"/>
<line x1="1765.8" y1="989.8" x2="1747.5" y2="1165.1" stroke="#3fb8e0" stroke-width="1.35"/>
<line x1="1763.0" y1="989.6" x2="1744.7" y2="1164.9" stroke="#c8dc3c" stroke-width="1.35"/>
<line x1="1647.6" y1="1004.9" x2="1450.1" y2="1071.5" stroke="#d8d8d8" stroke-width="5.7" stroke-opacity="0.35"/>
<line x1="1648.0" y1="1006.2" x2="1450.5" y2="1072.8" stroke="#3c3c46" stroke-width="1.35"/>
<line x1="1647.2" y1="1003.6" x2="1449.7" y2="1070.2" stroke="#c8dc3c" stroke-width="1.35"/>
<line x1="1647.6" y1="1004.9" x2="1655.3" y2="1129.9" stroke="#d8d8d8" stroke-width="8.4" stroke-opacity="0.35"/>
<line x1="1650.4" y1="1004.7" x2="1658.1" y2="1129.7" stroke="#3fb8e0" stroke-width="1.35"/>
<line x1="1647.6" y1="1004.9" x2="1655.3" y2="1129.9" stroke="#3c3c46" stroke-width="1.35"/>
<line x1="1644.8" y1="1005.1" x2="1652.5" y2="1130.1" stroke="#c8dc3c" stroke-width="1.35"/>
<line x1="1647.6" y1="1004.9" x2="1746.1" y2="1165.0" stroke="#d8d8d8" stroke-width="8.4" stroke-opacity="0.35"/>
<line x1="1650.0" y1="1003.4" x2="1748.5" y2="1163.5" stroke="#3fb8e0" stroke-width="1.35"/>
<line x1="1647.6" y1="1004.9" x2="1746.1" y2="1165.0" stroke="#3c3c46" stroke-width="1.35"/>
<line x1="1645.2" y1="1006.4" x2="1743.7" y2="1166.5" stroke="#c8dc3c" stroke-width="1.35"/>
<line x1="1647.6" y1="1004.9" x2="1504.2" y2="1236.2" stroke="#d8d8d8" stroke-width="5.7" stroke-opacity="0.35"/>
<line x1="1648.8" y1="1005.6" x2="1505.4" y2="1236.9" stroke="#3c3c46" stroke-width="1.35"/>
<line x1="1646.4" y1="1004.2" x2="1503.0" y2="1235.5" stroke="#c8dc3c" stroke-width="1.35"/>
<line x1="1647.6" y1="1004.9" x2="1592.3" y2="1268.9" stroke="#d8d8d8" stroke-width="5.7" stroke-opacity="0.35"/>
<line x1="1649.0" y1="1005.2" x2="1593.7" y2="1269.2" stroke="#3c3c46" stroke-width="1.35"/>
<line x1="1646.2" y1="1004.6" x2="1590.9" y2="1268.6" stroke="#c8dc3c" stroke-width="1.35"/>
<line x1="1450.1" y1="1071.5" x2="1655.3" y2="1129.9" stroke="#d8d8d8" stroke-width="5.7" stroke-opacity="0.35"/>
<line x1="1450.5" y1="1070.2" x2="1655.7" y2="1128.6" stroke="#3c3c46" stroke-width="1.35"/>
<line x1="1449.7" y1="1072.8" x2="1654.9" y2="1131.2" stroke="#c8dc3c" stroke-width="1.35"/>
<line x1="1450.1" y1="1071.5" x2="1746.1" y2="1165.0" stroke="#d8d8d8" stroke-width="5.7" stroke-opacity="0.35"/>
<line x1="1450.5" y1="1070.2" x2="1746.5" y2="1163.7" stroke="#c8dc3c" stroke-width="1.35"/>
<line x1="1449.7" y1="1072.8" x2="1745.7" y2="1166.3" stroke="#3c3c46" stroke-width="1.35"/>
<line x1="1450.1" y1="1071.5" x2="1504.2" y2="1236.2" stroke="#d8d8d8" stroke-width="5.7" stroke-opacity="0.35"/>
<line x1="1451.4" y1="1071.1" x2="1505.5" y2="1235.8" stroke="#c8dc3c" stroke-width="1.35"/>
<line x1="1448.8" y1="1071.9" x2="1502.9" y2="1236.6" stroke="#3c3c46" stroke-width="1.35"/>
<line x1="1450.1" y1="1071.5" x2="1592.3" y2="1268.9" stroke="#d8d8d8" stroke-width="5.7" stroke-opacity="0.35"/>
<line x1="1451.2" y1="1070.7" x2="1593.4" y2="1268.1" stroke="#3c3c46" stroke-width="1.35"/>
<line x1="1449.0" y1="1072.3" x2="1591.2" y2="1269.7" stroke="#c8dc3c" stroke-width="1.35"/>
<line x1="1655.3" y1="1129.9" x2="1746.1" y2="1165.0" stroke="#d8d8d8" stroke-width="8.4" stroke-opacity="0.35"/>
<line x1="1656.3" y1="1127.3" x2="1747.1" y2="1162.4" stroke="#3fb8e0" stroke-width="1.35"/>
<line x1="1655.3" y1="1129.9" x2="1746.1" y2="1165.0" stroke="#3c3c46" stroke-width="1.35"/>
<line x1="1654.3" y1="1132.5" x2="1745.1" y2="1167.6" stroke="#c8dc3c" stroke-width="1.35"/>
<line x1="1655.3" y1="1129.9" x2="1504.2" y2="1236.2" stroke="#d8d8d8" stroke-width="5.7" stroke-opacity="0.35"/>
<line x1="1656.1" y1="1131.0" x2="1505.0" y2="1237.3" stroke="#3c3c46" stroke-width="1.35"/>
<line x1="1654.5" y1="1128.8" x2="1503.4" y2="1235.1" stroke="#c8dc3c" stroke-width="1.35"/>
<line x1="1655.3" y1="1129.9" x2="1592.3" y2="1268.9" stroke="#d8d8d8" stroke-width="8.4" stroke-opacity="0.35"/>
<line x1="1657.9" y1="1131.1" x2="1594.9" y2="1270.1" stroke="#d63ed0" stroke-width="1.35"/>
<line x1="1655.3" y1="1129.9" x2="1592.3" y2="1268.9" stroke="#3c3c46" stroke-width="1.35"/>
<line x1="1652.7" y1="1128.7" x2="1589.7" y2="1267.7" stroke="#c8dc3c" stroke-width="1.35"/>
<line x1="1655.3" y1="1129.9" x2="1662.5" y2="1402.0" stroke="#d8d8d8" stroke-width="8.4" stroke-opacity="0.35"/>
<line x1="1658.1" y1="1129.8" x2="1665.3" y2="1401.9" stroke="#1fc21f" stroke-width="1.35"/>
<line x1="1655.3" y1="1129.9" x2="1662.5" y2="1402.0" stroke="#3c3c46" stroke-width="1.35"/>
<line x1="1652.5" y1="1130.0" x2="1659.7" y2="1402.1" stroke="#c8dc3c" stroke-width="1.35"/>
<line x1="1655.3" y1="1129.9" x2="1774.5" y2="1349.0" stroke="#d8d8d8" stroke-width="5.7" stroke-opacity="0.35"/>
<line x1="1656.5" y1="1129.2" x2="1775.7" y2="1348.3" stroke="#3c3c46" stroke-width="1.35"/>
<line x1="1654.1" y1="1130.6" x2="1773.3" y2="1349.7" stroke="#c8dc3c" stroke-width="1.35"/>
<line x1="1746.1" y1="1165.0" x2="1504.2" y2="1236.2" stroke="#d8d8d8" stroke-width="5.7" stroke-opacity="0.35"/>
<line x1="1746.5" y1="1166.3" x2="1504.6" y2="1237.5" stroke="#3c3c46" stroke-width="1.35"/>
<line x1="1745.7" y1="1163.7" x2="1503.8" y2="1234.9" stroke="#c8dc3c" stroke-width="1.35"/>
<line x1="1746.1" y1="1165.0" x2="1592.3" y2="1268.9" stroke="#d8d8d8" stroke-width="8.4" stroke-opacity="0.35"/>
<line x1="1747.7" y1="1167.3" x2="1593.9" y2="1271.2" stroke="#3c3c46" stroke-width="1.35"/>
<line x1="1746.1" y1="1165.0" x2="1592.3" y2="1268.9" stroke="#1fc21f" stroke-width="1.35"/>
<line x1="1744.5" y1="1162.7" x2="1590.7" y2="1266.6" stroke="#c8dc3c" stroke-width="1.35"/>
<line x1="1746.1" y1="1165.0" x2="1774.5" y2="1349.0" stroke="#d8d8d8" stroke-width="8.4" stroke-opacity="0.35"/>
<line x1="1748.9" y1="1164.6" x2="1777.3" y2="1348.6" stroke="#1fc21f" stroke-width="1.35"/>
<line x1="1746.1" y1="1165.0" x2="1774.5" y2="1349.0" stroke="#3c3c46" stroke-width="1.35"/>
<line x1="1743.3" y1="1165.4" x2="1771.7" y2="1349.4" stroke="#c8dc3c" stroke-width="1.35"/>
<line x1="1746.1" y1="1165.0" x2="1662.5" y2="1402.0" stroke="#d8d8d8" stroke-width="5.7" stroke-opacity="0.35"/>
<line x1="1747.4" y1="1165.5" x2="1663.8" y2="1402.5" stroke="#3c3c46" stroke-width="1.35"/>
<line x1="1744.8" y1="1164.5" x2="1661.2" y2="1401.5" stroke="#c8dc3c" stroke-width="1.35"/>
<line x1="1504.2" y1="1236.2" x2="1592.3" y2="1268.9" stroke="#d8d8d8" stroke-width="8.4" stroke-opacity="0.35"/>
<line x1="1505.2" y1="1233.6" x2="1593.3" y2="1266.3" stroke="#3c3c46" stroke-width="1.35"/>
<line x1="1504.2" y1="1236.2" x2="1592.3" y2="1268.9" stroke="#c8dc3c" stroke-width="1.35"/>
<line x1="1503.2" y1="1238.8" x2="1591.3" y2="1271.5" stroke="#1fc21f" stroke-width="1.35"/>
<line x1="1504.2" y1="1236.2" x2="1774.5" y2="1349.0" stroke="#d8d8d8" stroke-width="5.7" stroke-opacity="0.35"/>
<line x1="1504.7" y1="1234.9" x2="1775.0" y2="1347.7" stroke="#3c3c46" stroke-width="1.35"/>
<line x1="1503.7" y1="1237.5" x2="1774.0" y2="1350.3" stroke="#c8dc3c" stroke-width="1.35"/>
<line x1="1504.2" y1="1236.2" x2="1662.5" y2="1402.0" stroke="#d8d8d8" stroke-width="5.7" stroke-opacity="0.35"/>
<line x1="1505.2" y1="1235.2" x2="1663.5" y2="1401.0" stroke="#3c3c46" stroke-width="1.35"/>
<line x1="1503.2" y1="1237.2" x2="1661.5" y2="1403.0" stroke="#c8dc3c" stroke-width="1.35"/>
<line x1="1592.3" y1="1268.9" x2="1774.5" y2="1349.0" stroke="#d8d8d8" stroke-width="8.4" stroke-opacity="0.35"/>
<line x1="1593.4" y1="1266.3" x2="1775.6" y2="1346.4" stroke="#1fc21f" stroke-width="1.35"/>
<line x1="1592.3" y1="1268.9" x2="1774.5" y2="1349.0" stroke="#3c3c46" stroke-width="1.35"/>
<line x1="1591.2" y1="1271.5" x2="1773.4" y2="1351.6" stroke="#c8dc3c" stroke-width="1.35"/>
<line x1="1592.3" y1="1268.9" x2="1662.5" y2="1402.0" stroke="#d8d8d8" stroke-width="8.4" stroke-opacity="0.35"/>
<line x1="1594.8" y1="1267.6" x2="1665.0" y2="1400.7" stroke="#3c3c46" stroke-width="1.35"/>
<line x1="1592.3" y1="1268.9" x2="1662.5" y2="1402.0" stroke="#1fc21f" stroke-width="1.35"/>
<line x1="1589.8" y1="1270.2" x2="1660.0" y2="1403.3" stroke="#c8dc3c" stroke-width="1.35"/>
<line x1="1774.5" y1="1349.0" x2="1662.5" y2="1402.0" stroke="#d8d8d8" stroke-width="5.7" stroke-opacity="0.35"/>
<line x1="1775.1" y1="1350.3" x2="1663.1" y2="1403.3" stroke="#c8dc3c" stroke-width="1.35"/>
<line x1="1773.9" y1="1347.7" x2="1661.9" y2="1400.7" stroke="#3c3c46" stroke-width="1.35"/>
<rect x="1932.3" y="867.4" width="54.5" height="16.0" fill="#fff" opacity="0.65"/>
<rect x="1786.5" y="954.1" width="49.2" height="16.0" fill="#fff" opacity="0.65"/>
<rect x="1669.5" y="971.1" width="52.7" height="16.0" fill="#fff" opacity="0.65"/>
<rect x="1472.0" y="1035.1" width="64.1" height="16.0" fill="#fff" opacity="0.65"/>
<rect x="1677.5" y="1094.1" width="35.3" height="16.0" fill="#fff" opacity="0.65"/>
<rect x="1768.0" y="1129.1" width="39.6" height="16.0" fill="#fff" opacity="0.65"/>
<rect x="1525.5" y="1199.1" width="47.5" height="16.0" fill="#fff" opacity="0.65"/>
<rect x="1614.9" y="1232.1" width="53.6" height="16.0" fill="#fff" opacity="0.65"/>
<rect x="1796.5" y="1312.1" width="57.1" height="16.0" fill="#fff" opacity="0.65"/>
<rect x="1685.0" y="1365.1" width="53.3" height="16.0" fill="#fff" opacity="0.65"/>
<circle cx="1908.6" cy="904.9" r="25.6" fill="#000" opacity="0.4" filter="url(#blur)"/>
<circle cx="1910.4" cy="902.1" r="25.3" fill="url(#sg6)"/>
<path d="M1905.8,903.2 q-3.3,-1.3 -5.1,-2.9 M1906.0,897.6 q-1.5,1.9 -5.6,0.7 M1903.0,907.8 q1.9,-2.3 4.2,1.3 M1901.8,902.0 q1.6,3.4 -3.9,-1.5 M1916.0,910.4 q-3.2,-3.3 3.0,-1.1 M1908.1,909.1 q2.0,1.3 4.4,1.4 M1916.7,905.5 q0.7,-3.5 4.9,2.5 M1907.4,905.3 q-3.9,-0.0 1.5,-1.2 M1908.7,908.5 q-2.9,-0.4 -5.0,-0.7 M1918.1,905.1 q-3.8,2.9 1.9,0.1 M1906.1,900.3 q-2.5,1.0 -5.4,2.7 M1902.4,905.2 q0.6,-1.1 -2.7,-0.4 M1906.9,910.5 q1.2,0.1 2.0,-0.0 M1903.3,896.1 q3.8,2.8 -4.9,0.7" fill="none" stroke="#6aa070" stroke-width="1.6" stroke-linecap="round" opacity="0.75"/>
<ellipse cx="1910.4" cy="886.9" rx="14.7" ry="6.8" fill="url(#hl)"/>
<circle cx="1762.6" cy="992.5" r="25.6" fill="#000" opacity="0.4" filter="url(#blur)"/>
<circle cx="1764.4" cy="989.7" r="25.3" fill="url(#sg7)"/>
<path d="M1766.8,982.1 l-6.8,1.7 M1764.3,983.6 l6.7,-0.7 M1766.5,985.1 l-5.2,3.8 M1764.0,986.7 l-4.8,-1.2 M1765.1,988.2 l-7.1,-0.9 M1761.9,989.7 l-6.5,-2.5 M1763.0,991.2 l-3.4,2.1 M1764.0,992.7 l5.4,3.0 M1766.4,994.3 l6.8,0.6 M1765.3,995.8 l5.8,0.3 M1762.6,997.3 l0.3,0.2 M1762.8,998.8 l-6.2,-2.4 M1765.4,1000.3 l4.7,1.2 M1764.0,1001.8 l-7.2,-3.8" fill="none" stroke="#3a8ab0" stroke-width="1.6" stroke-linecap="round" opacity="0.75"/>
<ellipse cx="1764.4" cy="974.5" rx="14.7" ry="6.8" fill="url(#hl)"/>
<circle cx="1645.8" cy="1007.7" r="25.6" fill="#000" opacity="0.4" filter="url(#blur)"/>
<circle cx="1647.6" cy="1004.9" r="25.3" fill="url(#sg8)"/>
<ellipse cx="1647.6" cy="989.7" rx="14.7" ry="6.8" fill="url(#hl)"/>
<circle cx="1448.3" cy="1074.3" r="25.6" fill="#000" opacity="0.4" filter="url(#blur)"/>
<circle cx="1450.1" cy="1071.5" r="25.3" fill="url(#sg9)"/>
<ellipse cx="1450.1" cy="1056.3" rx="14.7" ry="6.8" fill="url(#hl)"/>
<circle cx="1653.5" cy="1132.7" r="25.6" fill="#000" opacity="0.4" filter="url(#blur)"/>
<circle cx="1655.3" cy="1129.9" r="25.3" fill="url(#sg10)"/>
<path d="M1638.2,1126.0 Q1655.3,1122.2 1672.2,1126.5 M1638.1,1126.9 Q1655.3,1124.5 1669.5,1127.5 M1641.2,1131.4 Q1655.3,1127.7 1670.6,1132.0 M1636.0,1128.2 Q1655.3,1123.9 1675.1,1126.7 M1636.0,1134.0 Q1655.3,1128.8 1671.5,1134.3 M1639.9,1134.9 Q1655.3,1129.7 1669.6,1132.7 M1641.1,1125.1 Q1655.3,1122.1 1673.7,1124.8 M1640.9,1128.2 Q1655.3,1125.9 1673.9,1131.8 M1640.5,1125.6 Q1655.3,1120.5 1671.5,1124.5 M1639.9,1129.8 Q1655.3,1127.0 1674.5,1130.6" fill="none" stroke="#1428c8" stroke-width="1.3" stroke-linecap="round" opacity="0.75"/>
<ellipse cx="1655.3" cy="1114.7" rx="14.7" ry="6.8" fill="url(#hl)"/>
<circle cx="1744.3" cy="1167.8" r="25.6" fill="#000" opacity="0.4" filter="url(#blur)"/>
<circle cx="1746.1" cy="1165.0" r="25.3" fill="url(#sg11)"/>
<path d="M1744.9,1157.4 l0.6,1.6 M1748.4,1158.9 l-2.0,0.2 M1745.5,1160.4 l0.8,2.6 M1748.6,1162.0 l6.5,3.3 M1743.8,1163.5 l-3.9,3.4 M1746.4,1165.0 l-5.4,0.9 M1748.3,1166.5 l-4.1,-1.1 M1744.4,1168.0 l7.2,-2.2 M1744.9,1169.6 l-6.4,-3.0 M1743.7,1171.1 l-7.5,0.2 M1745.1,1172.6 l-2.0,0.6 M1745.2,1174.1 l3.7,-1.9 M1746.1,1175.6 l-2.0,1.8 M1745.9,1177.1 l-3.4,3.3" fill="none" stroke="#6a7040" stroke-width="1.6" stroke-linecap="round" opacity="0.75"/>
<ellipse cx="1746.1" cy="1149.8" rx="14.7" ry="6.8" fill="url(#hl)"/>
<circle cx="1502.4" cy="1239.0" r="25.6" fill="#000" opacity="0.4" filter="url(#blur)"/>
<circle cx="1504.2" cy="1236.2" r="25.3" fill="url(#sg12)"/>
<path d="M1497.0,1232.7 q2.7,0.3 -2.6,-1.0 M1505.1,1234.9 q1.7,-3.0 -1.6,-1.3 M1509.4,1242.6 q0.1,3.1 -5.2,1.0 M1499.1,1232.7 q0.5,-3.3 -5.7,-1.3 M1506.1,1239.8 q2.5,-1.4 1.8,2.9 M1513.4,1233.0 q-1.2,-2.4 1.1,-0.1 M1505.7,1234.4 q3.4,-3.2 5.9,2.0 M1509.3,1239.4 q3.7,-0.2 5.5,2.7 M1495.3,1238.0 q-3.1,1.7 -5.3,2.6 M1498.1,1236.4 q-3.9,0.4 3.2,2.4 M1496.7,1234.2 q-0.9,-2.1 -3.2,-0.9 M1507.3,1232.8 q3.8,-3.7 -2.5,1.1 M1498.5,1238.1 q-0.6,-1.6 -1.0,-1.5 M1506.4,1234.9 q-3.7,2.1 -3.5,-0.9" fill="none" stroke="#607a20" stroke-width="1.6" stroke-linecap="round" opacity="0.75"/>
<ellipse cx="1504.2" cy="1221.0" rx="14.7" ry="6.8" fill="url(#hl)"/>
<circle cx="1590.5" cy="1271.7" r="25.6" fill="#000" opacity="0.4" filter="url(#blur)"/>
<circle cx="1592.3" cy="1268.9" r="25.3" fill="url(#sg13)"/>
<path d="M1593.2,1264.5 q-1.8,-0.6 -5.8,-0.0 M1601.4,1269.1 q2.7,3.7 -5.8,-2.9 M1591.0,1277.1 q-0.4,2.4 2.1,-2.7 M1591.6,1272.3 q-2.7,-2.9 2.0,-1.2 M1596.2,1266.8 q-3.4,-1.0 3.4,-0.9 M1593.2,1274.3 q-1.8,2.9 -5.5,-0.3 M1587.1,1265.2 q3.2,-2.7 3.4,-0.2 M1601.3,1276.0 q-3.9,3.6 0.7,1.4 M1584.3,1273.5 q1.8,3.7 1.1,-2.8 M1595.4,1272.7 q-3.0,2.5 -5.6,0.5 M1594.8,1276.9 q-2.7,-2.2 2.1,-0.1 M1600.8,1265.0 q1.3,-2.3 5.2,-0.8 M1590.6,1270.3 q3.4,2.7 1.5,-1.1 M1594.9,1275.9 q-0.3,-2.8 3.5,2.9" fill="none" stroke="#2a8a8a" stroke-width="1.6" stroke-linecap="round" opacity="0.75"/>
<ellipse cx="1592.3" cy="1253.7" rx="14.7" ry="6.8" fill="url(#hl)"/>
<circle cx="1772.7" cy="1351.8" r="25.6" fill="#000" opacity="0.4" filter="url(#blur)"/>
<circle cx="1774.5" cy="1349.0" r="25.3" fill="url(#sg14)"/>
<path d="M1776.1,1345.6 q3.7,3.4 -0.4,1.0 M1768.7,1346.0 q-1.7,1.5 -3.5,2.8 M1765.8,1345.6 q-3.3,2.2 -1.6,-0.2 M1771.0,1352.4 q-0.8,-2.3 -0.8,-1.2 M1766.6,1355.2 q1.4,1.3 4.6,-0.6 M1772.1,1349.1 q-0.8,1.4 -5.9,-0.2 M1775.2,1347.9 q-3.8,1.6 -5.9,0.4 M1767.5,1343.2 q-2.6,-3.5 -4.2,1.1 M1779.1,1348.2 q1.2,-0.2 -0.0,2.3 M1770.7,1355.9 q1.5,1.5 -5.9,-2.5 M1765.0,1347.9 q3.6,3.0 4.1,-2.3 M1778.7,1354.4 q2.5,2.3 -4.3,-1.9 M1780.4,1353.9 q3.1,-0.4 4.7,-2.2 M1783.8,1356.1 q-1.3,-3.5 0.6,1.1" fill="none" stroke="#c08020" stroke-width="1.6" stroke-linecap="round" opacity="0.75"/>
<ellipse cx="1774.5" cy="1333.8" rx="14.7" ry="6.8" fill="url(#hl)"/>
<circle cx="1660.7" cy="1404.8" r="25.6" fill="#000" opacity="0.4" filter="url(#blur)"/>
<circle cx="1662.5" cy="1402.0" r="25.3" fill="url(#sg15)"/>
<path d="M1655.0,1408.1 q3.0,-0.9 -2.7,-1.8 M1654.0,1398.9 q-2.4,2.8 -3.7,-1.9 M1671.2,1409.6 q-3.2,-1.4 5.9,-0.7 M1665.1,1406.2 q1.2,-3.6 2.7,1.9 M1661.4,1400.9 q1.8,3.9 5.3,-1.8 M1667.7,1403.1 q3.9,3.8 -0.2,2.4 M1670.3,1397.4 q-0.8,3.6 -3.2,-0.4 M1665.1,1401.0 q2.3,-2.5 1.2,0.3 M1652.9,1407.7 q2.3,2.8 -3.7,0.2 M1655.4,1406.8 q0.9,3.1 -4.4,-1.5 M1653.8,1409.7 q1.2,-2.9 2.9,-0.3 M1660.5,1407.5 q1.9,-0.1 -2.5,-0.7 M1660.2,1398.5 q-2.6,0.5 5.7,0.5 M1660.6,1396.1 q3.4,-1.5 -2.5,1.3" fill="none" stroke="#9a9a8a" stroke-width="1.6" stroke-linecap="round" opacity="0.75"/>
<ellipse cx="1662.5" cy="1386.8" rx="14.7" ry="6.8" fill="url(#hl)"/>
<text x="1933.8" y="880.3" font-size="15.7" text-anchor="start" fill="#222" >NLRC5</text>
<text x="1788.0" y="967.0" font-size="15.7" text-anchor="start" fill="#222" >HLA-A</text>
<text x="1671.0" y="984.0" font-size="15.7" text-anchor="start" fill="#222" >IFITM1</text>
<text x="1473.5" y="1048.0" font-size="15.7" text-anchor="start" fill="#222" >PLSCR1</text>
<text x="1679.0" y="1107.0" font-size="15.7" text-anchor="start" fill="#222" >MX1</text>
<text x="1769.5" y="1142.0" font-size="15.7" text-anchor="start" fill="#222" >IFIT1</text>
<text x="1527.0" y="1212.0" font-size="15.7" text-anchor="start" fill="#222" >IFI44L</text>
<text x="1616.4" y="1245.0" font-size="15.7" text-anchor="start" fill="#222" >DDX60</text>
<text x="1798.0" y="1325.0" font-size="15.7" text-anchor="start" fill="#222" >CMPK2</text>
<text x="1686.5" y="1378.0" font-size="15.7" text-anchor="start" fill="#222" >PARP9</text>
<text x="8.5" y="1026.3" font-size="33" font-weight="bold" text-anchor="start" fill="#000" >f</text>
<text x="548.7" y="1053.7" font-size="20.5" font-weight="bold" text-anchor="middle" fill="#000" >Hypomethylated Genes associated with transcript overexpression in C4</text>
<rect x="465.3" y="1097.5" width="87.4" height="14.2" fill="#000"/>
<text x="569.6" y="1111.5" font-size="20.5" text-anchor="start" fill="#000" >TNF receptor superfamily (TNFSF) members mediating non-canonical NF-kB pathway</text>
<rect x="461.8" y="1130.3" width="90.9" height="14.2" fill="#000"/>
<text x="569.6" y="1144.9" font-size="20.5" text-anchor="start" fill="#000" >Defective SLCO1B1 causes hyperbilirubinemia, Rotor type (HBLRR)</text>
<rect x="458.2" y="1163.4" width="94.5" height="14.2" fill="#000"/>
<text x="569.6" y="1178.3" font-size="20.5" text-anchor="start" fill="#000" >Passive transport by Aquaporins</text>
<rect x="454.7" y="1196.9" width="98.0" height="14.2" fill="#000"/>
<text x="569.6" y="1211.8" font-size="20.5" text-anchor="start" fill="#000" >Regulation of TLR by endogenous ligand</text>
<rect x="436" y="1230" width="116.7" height="14.2" fill="#000"/>
<text x="569.6" y="1242.7" font-size="20.5" text-anchor="start" fill="#000" >Proton/oligopeptide cotransporters</text>
<rect x="418.4" y="1263.2" width="134.3" height="14.2" fill="#000"/>
<text x="569.6" y="1275.3" font-size="20.5" text-anchor="start" fill="#000" >Activated TAK1 mediates p38 MAPK activation</text>
<rect x="407.1" y="1296.7" width="145.6" height="14.2" fill="#000"/>
<text x="569.6" y="1312.0" font-size="20.5" text-anchor="start" fill="#000" >Chondroitin sulfate biosynthesis</text>
<rect x="380.7" y="1330.1" width="172.0" height="14.2" fill="#000"/>
<text x="568.8" y="1343.8" font-size="20.5" text-anchor="start" fill="#000" >Metal sequestration by antimicrobial proteins</text>
<rect x="369" y="1363.6" width="183.7" height="14.2" fill="#000"/>
<text x="569.6" y="1378.9" font-size="20.5" text-anchor="start" fill="#000" >Transport of glycerol from adipocytes to the liver by Aquaporins</text>
<rect x="94.5" y="1396.4" width="458.2" height="14.2" fill="#000"/>
<text x="573.0" y="1409.3" font-size="20.5" text-anchor="start" fill="#000" >Neutrophil degranulation</text>
<line x1="5.3" y1="1418.3" x2="552" y2="1418.3" stroke="#000" stroke-width="2"/>
<line x1="5.3" y1="1417.3" x2="5.3" y2="1430.6" stroke="#000" stroke-width="2"/>
<text x="8.3" y="1453.5" font-size="19.5" text-anchor="middle" fill="#000" >10</text>
<line x1="114.5" y1="1417.3" x2="114.5" y2="1430.6" stroke="#000" stroke-width="2"/>
<text x="117.5" y="1453.5" font-size="19.5" text-anchor="middle" fill="#000" >8</text>
<line x1="223.6" y1="1417.3" x2="223.6" y2="1430.6" stroke="#000" stroke-width="2"/>
<text x="226.6" y="1453.5" font-size="19.5" text-anchor="middle" fill="#000" >6</text>
<line x1="332.8" y1="1417.3" x2="332.8" y2="1430.6" stroke="#000" stroke-width="2"/>
<text x="335.8" y="1453.5" font-size="19.5" text-anchor="middle" fill="#000" >4</text>
<line x1="441.9" y1="1417.3" x2="441.9" y2="1430.6" stroke="#000" stroke-width="2"/>
<text x="444.9" y="1453.5" font-size="19.5" text-anchor="middle" fill="#000" >2</text>
<line x1="551.0" y1="1415.3" x2="551.0" y2="1430.6" stroke="#000" stroke-width="2"/>
<text x="554.0" y="1453.5" font-size="19.5" text-anchor="middle" fill="#000" >0</text>
<text x="282.9" y="1483.5" font-size="20.8" text-anchor="middle" fill="#000" >Log(pValue)</text>
</svg>
</body></html>
